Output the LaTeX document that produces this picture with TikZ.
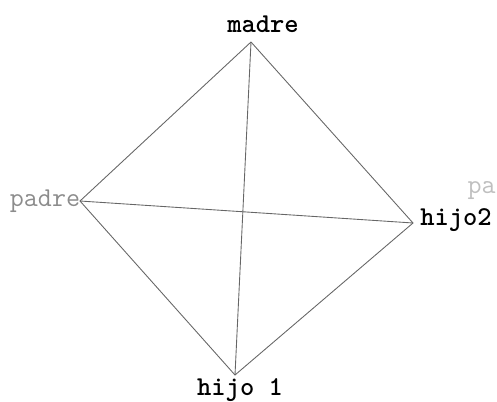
\documentclass[tikz,border=0pt]{standalone}
\begin{document}
\begin{tikzpicture}[
  x=0.02cm, y=-0.02cm,
  arista/.style={draw=black!60, line width=0.5pt},
  nombre/.style={font=\fontsize{15.5}{17}\selectfont\ttfamily\bfseries, inner sep=0pt},
  tenue/.style={font=\fontsize{15.5}{17}\selectfont\ttfamily, text=black!45, inner sep=0pt}
]
\useasboundingbox (0,0) rectangle (497,402);
\coordinate (m) at (251,42);
\coordinate (p) at (80,201);
\coordinate (h2) at (413,223);
\coordinate (h1) at (235,375);
\node[nombre] (madre) at (263,24) {madre};
\node[tenue] (padre) at (45,201) {padre};
\node[nombre] (hijo2) at (456,220) {hijo2};
\node[nombre] (hijo1) at (240,390) {hijo 1};
\node[tenue, text=black!25, anchor=east] (resto) at (496,191) {pa};
\draw[arista] (m) -- (p) -- (h1) -- (h2) -- (m);
\draw[arista] (m) -- (h1);
\draw[arista] (p) -- (h2);
\end{tikzpicture}
\end{document}
